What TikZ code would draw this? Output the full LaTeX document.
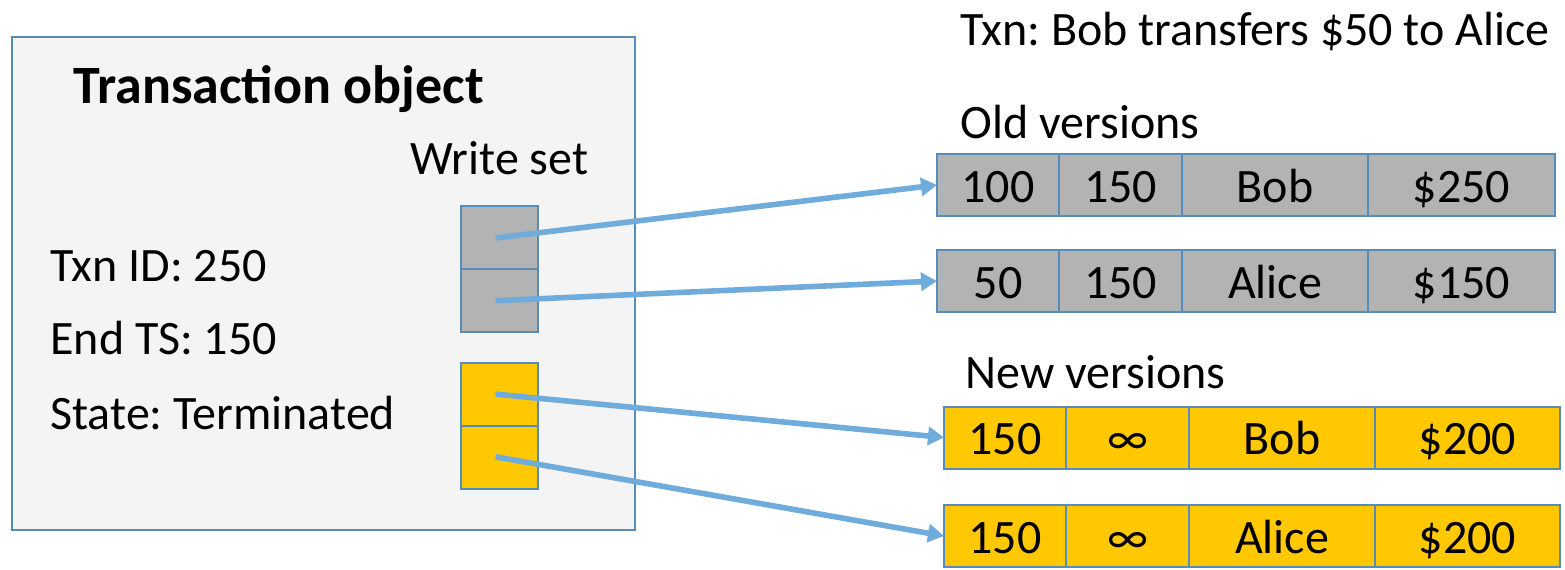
\documentclass[tikz,border=0pt]{standalone}
\usepackage{fontspec}
\setmainfont{Carlito}
\usepackage{tikz}
\usetikzlibrary{arrows.meta,positioning}

\definecolor{edgeblue}{RGB}{88,139,184}
\definecolor{arrowblue}{RGB}{111,172,220}
\definecolor{cellgray}{RGB}{179,179,179}
\definecolor{cellyellow}{RGB}{255,200,0}
\definecolor{panelgray}{RGB}{244,244,244}

\begin{document}
\frenchspacing
\begin{tikzpicture}[
    x=0.5pt, y=-0.5pt,
    font=\fontsize{24}{28}\selectfont,
    label/.style={anchor=west, inner sep=0pt},
    cell/.style={rectangle, draw=edgeblue, line width=1pt, minimum height=31pt, inner sep=0pt, outer sep=0pt, text height=17pt, text depth=0pt},
    oldcell/.style={cell, fill=cellgray},
    newcell/.style={cell, fill=cellyellow},
    slot/.style={rectangle, draw=edgeblue, line width=1.4pt, minimum width=38.5pt, minimum height=31.5pt, inner sep=0pt, outer sep=0pt},
    arrow/.style={-{Triangle[length=8pt,width=9pt]}, arrowblue, line width=2.8pt, shorten <=-2pt}
]
    \useasboundingbox (0,0) rectangle (1565,569);

    % transaction object
    \node[rectangle, draw=edgeblue, line width=1pt, fill=panelgray, minimum width=311.5pt, minimum height=246.5pt, inner sep=0pt] (txn) at (323.5,283.5) {};
    \node[label, font=\fontsize{27}{31}\selectfont\bfseries] (title) at (73,89) {Transaction object};
    \node[label] (wslabel) at (410,158) {Write set};
    \node[label] (txnid) at (50,266) {Txn ID: 250};
    \node[label] (endts) at (50,338) {End TS: 150};
    \node[label] (state) at (50,413) {State: Terminated};

    % write set slots
    \node[slot, fill=cellgray] (ws1) at (499.5,237.5) {};
    \node[slot, fill=cellgray, below=0pt of ws1] (ws2) {};
    \node[slot, fill=cellyellow] (ws3) at (499.5,394.5) {};
    \node[slot, fill=cellyellow, below=0pt of ws3] (ws4) {};

    % versions
    \node[label] (txndesc) at (960,32) {Txn: Bob transfers \$50 to Alice};
    \node[label] (oldlabel) at (960,122) {Old versions};
    \node[label] (newlabel) at (965,372) {New versions};

    \node[oldcell, minimum width=61pt] (o1a) at (998,185) {100};
    \node[oldcell, minimum width=61.5pt, right=0pt of o1a] (o1b) {150};
    \node[oldcell, minimum width=93pt, right=0pt of o1b] (o1c) {Bob};
    \node[oldcell, minimum width=93.5pt, right=0pt of o1c] (o1d) {\$250};

    \node[oldcell, minimum width=61pt] (o2a) at (998,281) {50};
    \node[oldcell, minimum width=61.5pt, right=0pt of o2a] (o2b) {150};
    \node[oldcell, minimum width=93pt, right=0pt of o2b] (o2c) {Alice};
    \node[oldcell, minimum width=93.5pt, right=0pt of o2c] (o2d) {\$150};

    \node[newcell, minimum width=61pt] (n1a) at (1005,437.5) {150};
    \node[newcell, minimum width=61.5pt, right=0pt of n1a] (n1b) {∞};
    \node[newcell, minimum width=93pt, right=0pt of n1b] (n1c) {Bob};
    \node[newcell, minimum width=92.5pt, right=0pt of n1c] (n1d) {\$200};

    \node[newcell, minimum width=61pt] (n2a) at (1005,536) {150};
    \node[newcell, minimum width=61.5pt, right=0pt of n2a] (n2b) {∞};
    \node[newcell, minimum width=93pt, right=0pt of n2b] (n2c) {Alice};
    \node[newcell, minimum width=92.5pt, right=0pt of n2c] (n2d) {\$200};

    \draw[arrow] (ws1.center) -- (o1a.west);
    \draw[arrow] (ws2.center) -- (o2a.west);
    \draw[arrow] (ws3.center) -- (n1a.west);
    \draw[arrow] (ws4.center) -- (n2a.west);
\end{tikzpicture}
\end{document}
